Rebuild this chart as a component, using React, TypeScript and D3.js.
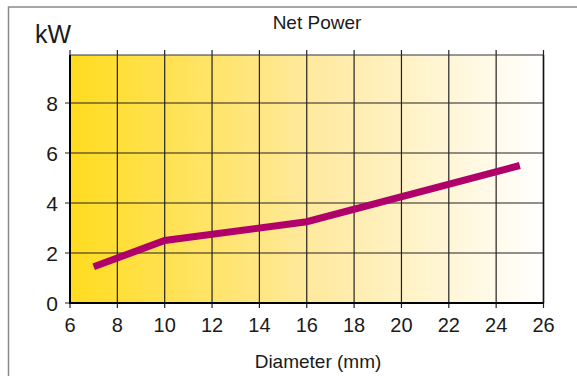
import React from "react";
import * as d3 from "d3";

const xTicks = [6, 8, 10, 12, 14, 16, 18, 20, 22, 24, 26];
const yTicks = [0, 2, 4, 6, 8];
const diameters = [7, 10, 16, 25];
const netPower = [1.45, 2.5, 3.25, 5.5];

const W = 577;
const H = 376;
const FONT = "'Liberation Sans', Arial, Helvetica, sans-serif";

export default function App() {
  const left = 70, right = 543.5, top = 55, bottom = 303;
  const x = d3.scaleLinear().domain([6, 26]).range([left, right]);
  const y = d3.scaleLinear().domain([0, 10]).range([bottom, bottom - 250]);
  const line = d3
    .line<number>()
    .x((_, i) => x(diameters[i]))
    .y((d) => y(d));

  return (
    <svg
      width={W}
      height={H}
      style={{ position: "absolute", left: 0, top: 0, background: "#fff" }}
    >
      <defs>
        <linearGradient id="bg" x1="0" x2="1" y1="0" y2="0">
          <stop offset="0" stopColor="#ffdc1e" />
          <stop offset="0.5" stopColor="#ffe99c" />
          <stop offset="1" stopColor="#ffffff" />
        </linearGradient>
      </defs>
      {/* outer frame */}
      <path d={`M8.5,${H + 2} V7 H${W + 2}`} fill="none" stroke="#8a8a8a" strokeWidth={1.5} />

      <rect x={left} y={top} width={right - left} height={bottom - top} fill="url(#bg)" />

      {/* vertical grid lines with ticks above and below */}
      {xTicks.map((t) => (
        <line
          key={"vx" + t}
          x1={x(t)}
          x2={x(t)}
          y1={top - 5}
          y2={bottom + 5}
          stroke="#222"
          strokeWidth={1.2}
        />
      ))}
      {/* horizontal grid lines with ticks left */}
      {yTicks.map((t) => (
        <line
          key={"hy" + t}
          x1={left - 5}
          x2={right}
          y1={y(t)}
          y2={y(t)}
          stroke="#222"
          strokeWidth={1.2}
        />
      ))}
      <line x1={left} x2={right} y1={top} y2={top} stroke="#333" strokeWidth={1} />
      {/* axes */}
      <line x1={left} x2={left} y1={top} y2={bottom + 1} stroke="#000" strokeWidth={2} />
      <line x1={left} x2={right} y1={bottom} y2={bottom} stroke="#000" strokeWidth={2} />
      <line x1={right} x2={right} y1={top} y2={bottom} stroke="#111" strokeWidth={1.5} />

      {/* data line */}
      <path
        d={line(netPower) || ""}
        fill="none"
        stroke="#b0006a"
        strokeWidth={7}
        strokeLinejoin="miter"
      />

      {/* y labels */}
      {yTicks.map((t) => (
        <text
          key={"yl" + t}
          x={58}
          y={y(t)}
          dy="0.36em"
          textAnchor="end"
          fontFamily={FONT}
          fontSize={21}
          fill="#1a1a1a"
        >
          {t}
        </text>
      ))}
      {/* x labels */}
      {xTicks.map((t) => (
        <text
          key={"xl" + t}
          x={x(t)}
          y={332}
          textAnchor="middle"
          fontFamily={FONT}
          fontSize={20}
          fill="#1a1a1a"
        >
          {t}
        </text>
      ))}

      <text x={35} y={43} fontFamily={FONT} fontSize={25} fill="#1a1a1a">
        kW
      </text>
      <text x={317} y={29} textAnchor="middle" fontFamily={FONT} fontSize={19} fill="#1a1a1a">
        Net Power
      </text>
      <text x={318} y={368} textAnchor="middle" fontFamily={FONT} fontSize={19} fill="#1a1a1a">
        Diameter (mm)
      </text>
    </svg>
  );
}
